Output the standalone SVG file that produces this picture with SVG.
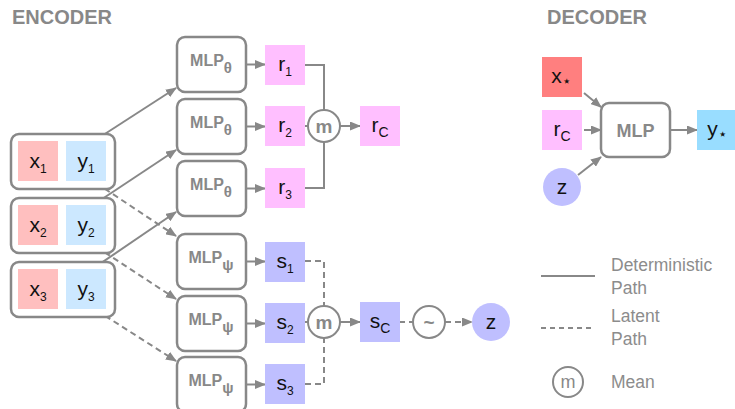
<svg xmlns="http://www.w3.org/2000/svg" width="735" height="409" viewBox="0 0 735 409">
<style>
.box{fill:#fff;stroke:#888;stroke-width:2.5}
.ln{fill:none;stroke:#888;stroke-width:2}
.dash{stroke-dasharray:6,4}
.arr{marker-end:url(#ah)}
.hd{font-family:"Liberation Sans",Arial,sans-serif;font-weight:bold;font-size:20px;fill:#888}
.mlp{font-family:"Liberation Sans",Arial,sans-serif;font-weight:bold;font-size:16px;fill:#888;text-anchor:middle}
.lb{font-family:"Liberation Sans",Arial,sans-serif;font-size:21px;fill:#111;text-anchor:middle}
.lg{font-family:"Liberation Sans",Arial,sans-serif;font-size:17.5px;fill:#8c8c8c}
.cx{fill:#FFBFBF}.cy{fill:#CCE8FF}.cr{fill:#FFBFFF}.cs{fill:#BFBFFF}
.circ{fill:#fff;stroke:#888;stroke-width:2}
.mt{font-family:"Liberation Sans",Arial,sans-serif;font-weight:bold;font-size:19px;fill:#888;text-anchor:middle}
.sb{font-size:12px}
.sc{font-size:14px}
.st{font-size:15px}
</style>
<defs>
<marker id="ah" markerUnits="userSpaceOnUse" markerWidth="11" markerHeight="9" refX="10" refY="4.5" orient="auto">
<path d="M0,0 L11,4.5 L0,9 z" fill="#888"/>
</marker>
</defs>
<text class="hd" x="12" y="24">ENCODER</text>
<text class="hd" x="547" y="24">DECODER</text>
<g id="connectors">
<line class="ln arr" x1="63" y1="161" x2="176" y2="88"/>
<line class="ln arr" x1="63" y1="225" x2="176" y2="150"/>
<line class="ln arr" x1="63" y1="289" x2="176" y2="212"/>
<line class="ln dash arr" x1="63" y1="161" x2="176" y2="236"/>
<line class="ln dash arr" x1="63" y1="225" x2="176" y2="299"/>
<line class="ln dash arr" x1="63" y1="289" x2="176" y2="361"/>
<line class="ln arr" x1="246" y1="64.5" x2="265" y2="64.5"/>
<line class="ln arr" x1="246" y1="126.5" x2="265" y2="126.5"/>
<line class="ln arr" x1="246" y1="188.5" x2="265" y2="188.5"/>
<line class="ln arr" x1="246" y1="261.5" x2="265" y2="261.5"/>
<line class="ln arr" x1="246" y1="323.5" x2="265" y2="323.5"/>
<line class="ln arr" x1="246" y1="384.5" x2="265" y2="384.5"/>
<polyline class="ln" points="305,65 324,65 324,110"/>
<line class="ln" x1="305" y1="126" x2="308" y2="126"/>
<polyline class="ln" points="305,188 324,188 324,142"/>
<line class="ln arr" x1="340" y1="126" x2="360" y2="126"/>
<polyline class="ln dash" points="305,261 324,261 324,306"/>
<line class="ln" x1="305" y1="322" x2="308" y2="322"/>
<polyline class="ln dash" points="305,384 324,384 324,338"/>
<line class="ln arr" x1="340" y1="322" x2="360" y2="322"/>
<line class="ln" stroke-dasharray="5,4" x1="400" y1="322" x2="413" y2="322"/>
<line class="ln arr" stroke-dasharray="6,4" x1="445" y1="322" x2="472" y2="322"/>
<line class="ln arr" x1="584" y1="93" x2="601" y2="107"/>
<line class="ln arr" x1="584" y1="130" x2="601" y2="130"/>
<line class="ln arr" x1="578" y1="175" x2="601" y2="157"/>
<line class="ln arr" x1="670" y1="130" x2="697" y2="130"/>
</g>
<g id="pair1">
<rect class="box" x="11" y="134" width="104" height="55" rx="8"/>
<rect class="cx" x="18" y="141" width="40" height="40"/>
<rect class="cy" x="66" y="141" width="40" height="40"/>
<text class="lb" x="38" y="168">x<tspan class="sb" dy="5">1</tspan></text>
<text class="lb" x="86" y="168">y<tspan class="sb" dy="5">1</tspan></text>
</g>
<g id="pair2">
<rect class="box" x="11" y="198" width="104" height="55" rx="8"/>
<rect class="cx" x="18" y="205" width="40" height="40"/>
<rect class="cy" x="66" y="205" width="40" height="40"/>
<text class="lb" x="38" y="232">x<tspan class="sb" dy="5">2</tspan></text>
<text class="lb" x="86" y="232">y<tspan class="sb" dy="5">2</tspan></text>
</g>
<g id="pair3">
<rect class="box" x="11" y="262" width="104" height="55" rx="8"/>
<rect class="cx" x="18" y="269" width="40" height="40"/>
<rect class="cy" x="66" y="269" width="40" height="40"/>
<text class="lb" x="38" y="296">x<tspan class="sb" dy="5">3</tspan></text>
<text class="lb" x="86" y="296">y<tspan class="sb" dy="5">3</tspan></text>
</g>
<g id="mlp_theta1"><rect class="box" x="177" y="37" width="69" height="55" rx="8"/><text class="mlp" x="211" y="66">MLP<tspan class="st" dy="7">θ</tspan></text></g>
<g id="mlp_theta2"><rect class="box" x="177" y="99" width="69" height="55" rx="8"/><text class="mlp" x="211" y="128">MLP<tspan class="st" dy="7">θ</tspan></text></g>
<g id="mlp_theta3"><rect class="box" x="177" y="161" width="69" height="55" rx="8"/><text class="mlp" x="211" y="190">MLP<tspan class="st" dy="7">θ</tspan></text></g>
<g id="mlp_psi1"><rect class="box" x="177" y="234" width="69" height="55" rx="8"/><text class="mlp" x="211" y="263">MLP<tspan class="st" dy="7">ψ</tspan></text></g>
<g id="mlp_psi2"><rect class="box" x="177" y="296" width="69" height="55" rx="8"/><text class="mlp" x="211" y="325">MLP<tspan class="st" dy="7">ψ</tspan></text></g>
<g id="mlp_psi3"><rect class="box" x="177" y="357" width="69" height="55" rx="8"/><text class="mlp" x="211" y="386">MLP<tspan class="st" dy="7">ψ</tspan></text></g>
<g id="r1"><rect class="cr" x="265" y="45" width="40" height="40"/><text class="lb" x="285" y="71">r<tspan class="sb" dy="5">1</tspan></text></g>
<g id="r2"><rect class="cr" x="265" y="106" width="40" height="40"/><text class="lb" x="285" y="132">r<tspan class="sb" dy="5">2</tspan></text></g>
<g id="r3"><rect class="cr" x="265" y="168" width="40" height="40"/><text class="lb" x="285" y="194">r<tspan class="sb" dy="5">3</tspan></text></g>
<g id="mean_r"><circle class="circ" cx="324" cy="126" r="16"/><text class="mt" x="324" y="132.5">m</text></g>
<g id="rC"><rect class="cr" x="360" y="106" width="40" height="40"/><text class="lb" x="380" y="132">r<tspan class="sc" dy="5">C</tspan></text></g>
<g id="s1"><rect class="cs" x="265" y="242" width="40" height="40"/><text class="lb" x="285" y="268">s<tspan class="sb" dy="5">1</tspan></text></g>
<g id="s2"><rect class="cs" x="265" y="303" width="40" height="40"/><text class="lb" x="285" y="329">s<tspan class="sb" dy="5">2</tspan></text></g>
<g id="s3"><rect class="cs" x="265" y="364" width="40" height="40"/><text class="lb" x="285" y="390">s<tspan class="sb" dy="5">3</tspan></text></g>
<g id="mean_s"><circle class="circ" cx="324" cy="322" r="16"/><text class="mt" x="324" y="328.5">m</text></g>
<g id="sC"><rect class="cs" x="360" y="302" width="40" height="40"/><text class="lb" x="380" y="328">s<tspan class="sc" dy="5">C</tspan></text></g>
<g id="sample"><circle class="circ" cx="429" cy="322" r="16"/><text class="mt" x="429" y="328.5">~</text></g>
<g id="z"><circle class="cs" cx="491" cy="322" r="19"/><text class="lb" x="491" y="329">z</text></g>
<g id="x_star"><rect fill="#FF7F7F" x="542" y="57" width="40" height="40"/><text class="lb" x="561" y="83">x<tspan class="st" dy="3">⋆</tspan></text></g>
<g id="rC_dec"><rect class="cr" x="542" y="110" width="40" height="40"/><text class="lb" x="562" y="136">r<tspan class="sc" dy="5">C</tspan></text></g>
<g id="z_dec"><circle class="cs" cx="562" cy="187" r="19"/><text class="lb" x="562" y="194">z</text></g>
<g id="mlp_dec"><rect class="box" x="601" y="103" width="69" height="54" rx="8"/><text class="mlp" x="635.5" y="137" style="font-size:18px">MLP</text></g>
<g id="y_star"><rect fill="#99DDFF" x="697" y="110" width="41" height="40"/><text class="lb" x="717" y="136">y<tspan class="st" dy="3">⋆</tspan></text></g>
<g id="legend">
<line class="ln" x1="541" y1="276" x2="595" y2="276"/>
<text class="lg" x="611" y="271">Deterministic</text>
<text class="lg" x="611" y="294">Path</text>
<line class="ln" stroke-dasharray="5,4" x1="541" y1="328" x2="595" y2="328"/>
<text class="lg" x="611" y="322">Latent</text>
<text class="lg" x="611" y="345">Path</text>
<circle class="circ" cx="568" cy="382" r="15"/><text class="mt" x="568" y="388" style="font-weight:normal;font-size:18px">m</text>
<text class="lg" x="611" y="388">Mean</text>
</g>
</svg>
